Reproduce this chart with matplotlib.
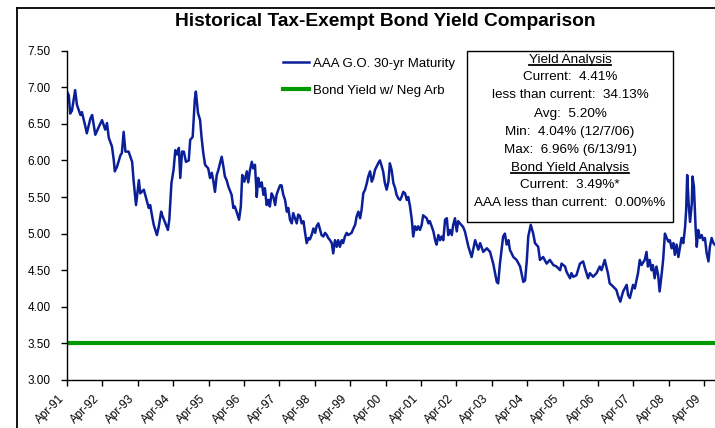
import matplotlib
matplotlib.use("Agg")
import matplotlib.pyplot as plt
import matplotlib.transforms as mtransforms
from matplotlib.lines import Line2D
from matplotlib.patches import Rectangle

plt.rcParams['font.family'] = ['Liberation Sans', 'DejaVu Sans']

# AAA G.O. 30-yr yields (decimal year, percent)
years = [
    1991.25, 1991.30, 1991.34, 1991.39, 1991.48, 1991.53, 1991.63, 1991.67, 1991.77, 1991.81,
    1991.91, 1991.96, 1992.05, 1992.15, 1992.24, 1992.33, 1992.38, 1992.43, 1992.52, 1992.57,
    1992.60, 1992.66, 1992.76, 1992.80, 1992.85, 1992.90, 1992.99, 1993.09, 1993.13, 1993.20,
    1993.28, 1993.32, 1993.42, 1993.51, 1993.56, 1993.60, 1993.65, 1993.70, 1993.79, 1993.84,
    1993.91, 1993.94, 1994.03, 1994.10, 1994.14, 1994.20, 1994.26, 1994.31, 1994.36, 1994.41,
    1994.45, 1994.50, 1994.55, 1994.61, 1994.69, 1994.73, 1994.80, 1994.86, 1994.89, 1994.95,
    1995.01, 1995.05, 1995.10, 1995.15, 1995.24, 1995.29, 1995.34, 1995.38, 1995.43, 1995.48,
    1995.52, 1995.62, 1995.67, 1995.71, 1995.76, 1995.81, 1995.90, 1995.95, 1995.99, 1996.04,
    1996.11, 1996.16, 1996.20, 1996.26, 1996.33, 1996.37, 1996.42, 1996.47, 1996.51, 1996.56,
    1996.61, 1996.65, 1996.70, 1996.75, 1996.80, 1996.84, 1996.89, 1996.94, 1996.98, 1997.03,
    1997.08, 1997.13, 1997.17, 1997.22, 1997.27, 1997.31, 1997.36, 1997.41, 1997.46, 1997.50,
    1997.55, 1997.60, 1997.64, 1997.69, 1997.74, 1997.78, 1997.83, 1997.88, 1997.93, 1997.97,
    1998.02, 1998.07, 1998.11, 1998.16, 1998.21, 1998.26, 1998.30, 1998.35, 1998.40, 1998.44,
    1998.49, 1998.54, 1998.59, 1998.63, 1998.68, 1998.73, 1998.77, 1998.82, 1998.87, 1998.91,
    1998.96, 1999.01, 1999.05, 1999.10, 1999.15, 1999.19, 1999.29, 1999.34, 1999.39, 1999.43,
    1999.48, 1999.53, 1999.57, 1999.62, 1999.67, 1999.72, 1999.76, 1999.81, 1999.86, 1999.90,
    1999.95, 2000.00, 2000.04, 2000.09, 2000.14, 2000.18, 2000.23, 2000.28, 2000.33, 2000.37,
    2000.42, 2000.47, 2000.52, 2000.56, 2000.61, 2000.66, 2000.70, 2000.75, 2000.80, 2000.85,
    2000.89, 2000.94, 2000.99, 2001.03, 2001.08, 2001.13, 2001.17, 2001.22, 2001.27, 2001.31,
    2001.36, 2001.41, 2001.46, 2001.50, 2001.55, 2001.60, 2001.65, 2001.69, 2001.74, 2001.79,
    2001.83, 2001.88, 2001.93, 2001.98, 2002.02, 2002.07, 2002.12, 2002.16, 2002.21, 2002.26,
    2002.30, 2002.35, 2002.44, 2002.49, 2002.59, 2002.68, 2002.78, 2002.87, 2002.92, 2003.01,
    2003.11, 2003.20, 2003.29, 2003.39, 2003.43, 2003.48, 2003.57, 2003.62, 2003.67, 2003.72,
    2003.76, 2003.86, 2003.95, 2004.05, 2004.14, 2004.19, 2004.24, 2004.28, 2004.35, 2004.42,
    2004.47, 2004.56, 2004.61, 2004.70, 2004.80, 2004.89, 2004.99, 2005.08, 2005.18, 2005.22,
    2005.32, 2005.36, 2005.46, 2005.50, 2005.55, 2005.64, 2005.74, 2005.83, 2005.88, 2005.97,
    2006.02, 2006.11, 2006.21, 2006.30, 2006.35, 2006.44, 2006.53, 2006.58, 2006.67, 2006.77,
    2006.81, 2006.88, 2006.96, 2007.06, 2007.10, 2007.15, 2007.24, 2007.29, 2007.38, 2007.43,
    2007.48, 2007.57, 2007.62, 2007.66, 2007.71, 2007.76, 2007.80, 2007.85, 2007.90, 2007.95,
    2007.99, 2008.04, 2008.09, 2008.14, 2008.19, 2008.24, 2008.28, 2008.33, 2008.38, 2008.42,
    2008.47, 2008.52, 2008.57, 2008.61, 2008.66, 2008.71, 2008.74, 2008.77, 2008.81, 2008.85,
    2008.90, 2008.92, 2008.96, 2009.01, 2009.04, 2009.08, 2009.13, 2009.18, 2009.22, 2009.27,
    2009.32, 2009.37, 2009.41, 2009.46, 2009.51, 2009.55,
]
aaa_yield = [
    6.94, 6.89, 6.64, 6.68, 6.96, 6.76, 6.62, 6.66, 6.46, 6.37,
    6.57, 6.62, 6.35, 6.46, 6.55, 6.42, 6.51, 6.31, 6.19, 6.01,
    5.85, 5.91, 6.07, 6.10, 6.39, 6.12, 6.12, 5.98, 5.73, 5.39,
    5.73, 5.55, 5.60, 5.44, 5.35, 5.39, 5.25, 5.12, 4.98, 5.09,
    5.30, 5.25, 5.14, 5.05, 5.19, 5.69, 5.87, 6.14, 6.08, 6.17,
    5.76, 6.12, 6.12, 5.98, 6.00, 6.28, 6.32, 6.83, 6.94, 6.65,
    6.55, 6.32, 6.10, 5.94, 5.89, 5.76, 5.83, 5.73, 5.57, 5.80,
    5.86, 6.05, 5.91, 5.78, 5.73, 5.64, 5.53, 5.35, 5.37, 5.30,
    5.19, 5.37, 5.80, 5.71, 5.85, 5.70, 5.87, 5.98, 5.89, 5.94,
    5.50, 5.76, 5.64, 5.70, 5.53, 5.62, 5.39, 5.46, 5.37, 5.55,
    5.50, 5.39, 5.53, 5.60, 5.66, 5.66, 5.53, 5.46, 5.30, 5.35,
    5.19, 5.14, 5.28, 5.21, 5.14, 5.26, 5.24, 5.14, 5.17, 5.03,
    4.87, 4.94, 4.92, 4.98, 5.07, 5.01, 5.10, 5.14, 5.05, 4.98,
    4.96, 5.01, 4.98, 4.94, 4.91, 4.87, 4.73, 4.91, 4.82, 4.91,
    4.82, 4.91, 4.87, 4.96, 5.01, 4.98, 5.01, 5.07, 5.12, 5.23,
    5.30, 5.21, 5.32, 5.55, 5.60, 5.69, 5.78, 5.85, 5.71, 5.76,
    5.87, 5.92, 5.96, 6.00, 5.92, 5.85, 5.69, 5.60, 5.71, 5.96,
    5.87, 5.69, 5.62, 5.53, 5.48, 5.46, 5.50, 5.57, 5.55, 5.46,
    5.50, 5.37, 5.19, 4.96, 5.10, 5.05, 5.10, 5.05, 5.12, 5.25,
    5.23, 5.21, 5.14, 5.17, 5.10, 5.03, 4.91, 4.85, 4.98, 4.91,
    4.96, 4.91, 5.19, 5.21, 4.98, 5.05, 4.98, 5.12, 5.21, 5.03,
    5.17, 5.14, 5.09, 5.03, 4.82, 4.68, 4.91, 4.78, 4.87, 4.75,
    4.80, 4.75, 4.59, 4.34, 4.32, 4.59, 4.96, 5.00, 4.85, 4.91,
    4.78, 4.68, 4.64, 4.55, 4.34, 4.36, 4.64, 4.96, 5.12, 5.00,
    4.87, 4.82, 4.64, 4.68, 4.59, 4.64, 4.57, 4.55, 4.50, 4.59,
    4.55, 4.48, 4.39, 4.46, 4.41, 4.43, 4.59, 4.62, 4.53, 4.39,
    4.46, 4.41, 4.46, 4.55, 4.50, 4.64, 4.46, 4.32, 4.28, 4.23,
    4.16, 4.07, 4.21, 4.30, 4.16, 4.12, 4.30, 4.25, 4.46, 4.64,
    4.57, 4.64, 4.75, 4.55, 4.64, 4.50, 4.57, 4.39, 4.55, 4.43,
    4.21, 4.41, 4.64, 5.00, 4.94, 4.89, 4.91, 4.80, 4.87, 4.71,
    4.85, 4.68, 4.82, 4.94, 4.87, 5.09, 5.32, 5.80, 5.41, 5.16,
    5.41, 5.78, 5.64, 5.05, 4.82, 5.05, 4.94, 4.98, 4.91, 4.94,
    4.73, 4.62, 4.82, 4.94, 4.87, 4.85,
]
bond_yield = 3.50

tick_years = list(range(1991, 2010))
tick_labels = ["Apr-%02d" % (y % 100) for y in tick_years]

box_lines = [
    "Yield Analysis",
    "Current:  4.41%",
    "less than current:  34.13%",
    "Avg:  5.20%",
    "Min:  4.04% (12/7/06)",
    "Max:  6.96% (6/13/91)",
    "Bond Yield Analysis",
    "Current:  3.49%*",
    "AAA less than current:  0.00%%",
]
underlined = [0, 6]

W, H = 715, 428
fig = plt.figure(figsize=(W / 100, H / 100), dpi=100)
ax = fig.add_axes([67 / W, 1 - 380 / H, 1 - 67 / W, (380 - 50.6) / H])

ax.plot(years, aaa_yield, color='#0B1F99', lw=1.8, label='AAA G.O. 30-yr Maturity')
ax.axhline(bond_yield, color='#009900', lw=3, label='Bond Yield w/ Neg Arb')

ax.set_xlim(1991.25, 1991.25 + (W - 67) / 35.4)
ax.set_ylim(3.0, 7.5)
ax.set_yticks([3.0 + 0.5 * i for i in range(10)])
ax.set_yticklabels(["%.2f" % (3.0 + 0.5 * i) for i in range(10)], fontsize=8.5)
ax.set_xticks([y + 0.25 for y in tick_years])
ax.set_xticklabels(tick_labels, fontsize=8.5, rotation=45, ha='right', rotation_mode='anchor')
ax.tick_params(direction='out', length=4, width=1)
ax.tick_params(axis='y', pad=8)
ax.tick_params(axis='x', pad=5)
shift = mtransforms.ScaledTranslation(-9 / 100, 0, fig.dpi_scale_trans)
for lab in ax.get_xticklabels():
    lab.set_transform(lab.get_transform() + shift)
ax.spines['top'].set_visible(False)
ax.spines['right'].set_visible(False)
ax.spines['left'].set_linewidth(1)
ax.spines['bottom'].set_linewidth(1)

ax.legend(loc='upper left', bbox_to_anchor=(271 / W, 1 - 46 / H), bbox_transform=fig.transFigure,
          frameon=False, fontsize=9.5, handlelength=2.0, handletextpad=0.3, labelspacing=1.1)

fig.text(385 / W, 1 - 21 / H, "Historical Tax-Exempt Bond Yield Comparison", ha='center', va='center',
         fontsize=13.8, fontweight='bold')

# outer frame of the chart area
fig.add_artist(Line2D([17 / W, 17 / W], [0, 1 - 8 / H], color='black', lw=1.3, transform=fig.transFigure))
fig.add_artist(Line2D([17 / W, 1], [1 - 8 / H, 1 - 8 / H], color='black', lw=1.3, transform=fig.transFigure))

# analysis box
fig.add_artist(Rectangle((467 / W, 1 - 222 / H), 206 / W, 171 / H, facecolor='white', edgecolor='black',
                         lw=1, transform=fig.transFigure, zorder=3))
texts = []
for i, s in enumerate(box_lines):
    t = fig.text(570 / W, 1 - (59.5 + 18 * i) / H, s, ha='center', va='center', fontsize=9.7, zorder=4)
    texts.append(t)

fig.canvas.draw()
r = fig.canvas.get_renderer()
for i in underlined:
    bb = texts[i].get_window_extent(r)
    y = (bb.y0 + 0.5) / H
    fig.add_artist(Line2D([bb.x0 / W, bb.x1 / W], [y, y], color='black', lw=1.3,
                          transform=fig.transFigure, zorder=4))

fig.savefig("out.png", dpi=100)
